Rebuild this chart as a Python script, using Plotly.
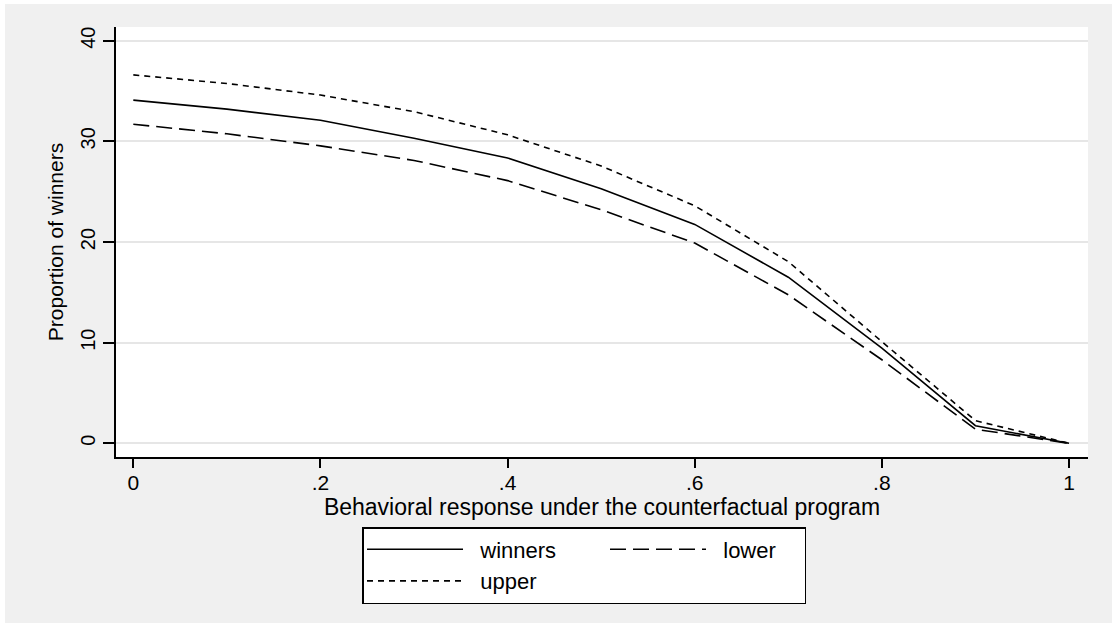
import plotly.graph_objects as go

# ---- data ----
x_vals = [0.0, 0.1, 0.2, 0.3, 0.4, 0.5, 0.6, 0.7, 0.8, 0.9, 1.0]
winners = [34.1, 33.2, 32.1, 30.3, 28.35, 25.3, 21.75, 16.5, 9.45, 1.75, 0.0]
lower = [31.7, 30.75, 29.55, 28.1, 26.1, 23.2, 19.9, 14.75, 8.3, 1.4, 0.0]
upper = [36.6, 35.75, 34.6, 32.95, 30.65, 27.55, 23.6, 18.05, 10.1, 2.25, 0.0]
series_names = ["winners", "lower", "upper"]

x_ticks = [0, 0.2, 0.4, 0.6, 0.8, 1.0]
x_ticktext = ["0", ".2", ".4", ".6", ".8", "1"]
y_ticks = [0, 10, 20, 30, 40]
y_ticktext = ["0", "10", "20", "30", "40"]

FONT = "Liberation Sans, Arial, Helvetica, sans-serif"
PAD = "\u00a0\u00a0"

fig = go.Figure()
fig.add_trace(go.Scatter(x=x_vals, y=winners, mode="lines", name=PAD + series_names[0],
                         legendgroup="a",
                         line=dict(color="black", width=1.6)))
fig.add_trace(go.Scatter(x=x_vals, y=lower, mode="lines", name=PAD + series_names[1],
                         legendgroup="b", legendwidth=88,
                         line=dict(color="black", width=1.6, dash="16px,7px")))
fig.add_trace(go.Scatter(x=x_vals, y=upper, mode="lines", name=PAD + series_names[2],
                         legendgroup="a",
                         line=dict(color="black", width=1.6, dash="6px,5px")))

fig.update_layout(
    width=1112, height=623,
    margin=dict(l=116, r=24, t=27, b=166, autoexpand=False),
    paper_bgcolor="#f0f0f0",
    plot_bgcolor="white",
    font=dict(family=FONT, color="black", size=20),
    showlegend=True,
    legend=dict(
        orientation="h",
        traceorder="grouped",
        tracegroupgap=30,
        itemwidth=96,
        entrywidth=132,
        entrywidthmode="pixels",
        x=0.2531, xanchor="left",
        y=-0.1628, yanchor="top",
        bgcolor="white",
        bordercolor="black",
        borderwidth=1.5,
        font=dict(family=FONT, size=22, color="black"),
    ),
    shapes=[
        dict(type="rect", xref="paper", yref="paper", x0=-0.2, x1=1.2,
             y0=1.0535, y1=1.2, fillcolor="white", line=dict(width=0), layer="below"),
        dict(type="rect", xref="paper", yref="paper", x0=-0.2, x1=-0.1142,
             y0=-0.6, y1=1.2, fillcolor="white", line=dict(width=0), layer="below"),
    ],
)

fig.update_xaxes(
    range=[-0.0185, 1.0203],
    tickmode="array", tickvals=x_ticks, ticktext=x_ticktext,
    ticks="outside", ticklen=9, tickwidth=1.5, tickcolor="black",
    ticklabelstandoff=-3,
    showline=True, linecolor="black", linewidth=1.5,
    showgrid=False, zeroline=False,
    tickfont=dict(family=FONT, size=21),
    title=dict(text="Behavioral response under the counterfactual program",
               font=dict(family=FONT, size=23), standoff=0),
)
fig.update_yaxes(
    range=[-1.36, 41.36],
    tickmode="array", tickvals=y_ticks, ticktext=y_ticktext,
    ticks="outside", ticklen=11, tickwidth=1.5, tickcolor="black",
    tickangle=-90,
    showline=True, linecolor="black", linewidth=1.5,
    showgrid=True, gridcolor="#e6e6e6", gridwidth=1.5, zeroline=False,
    tickfont=dict(family=FONT, size=20),
    title=dict(text="Proportion of winners", font=dict(family=FONT, size=21), standoff=8),
)

fig.write_html("out.html", config={"displayModeBar": False},
               post_script="document.body.style.margin='0px';")
